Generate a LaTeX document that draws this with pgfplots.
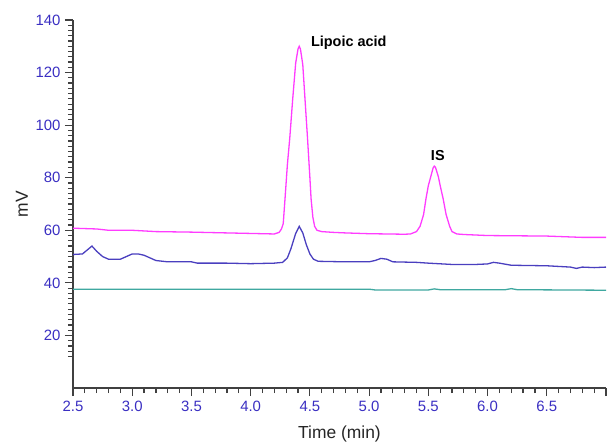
\documentclass[border=0pt]{standalone}
\usepackage{pgfplots}
\pgfplotsset{compat=1.18}
\usepackage{fontspec}
\setmainfont{Liberation Sans}
\definecolor{magc}{HTML}{FF3CFF}
\definecolor{bluec}{HTML}{4A3FBF}
\definecolor{tealc}{HTML}{3FA8A0}
\definecolor{tickc}{HTML}{3A2FC2}
\begin{document}
\begin{tikzpicture}
\begin{axis}[
  scale only axis,
  width=533bp, height=368bp,
  xmin=2.5, xmax=7.0, ymin=0, ymax=140,
  axis x line=bottom, axis y line=left,
  axis line style={-, black!75, line width=1.3bp},
  tick align=outside,
  major tick length=8bp, minor tick length=5bp,
  every tick/.style={black!75, line width=1.2bp},
  xtick={2.5,3.0,3.5,4.0,4.5,5.0,5.5,6.0,6.5,7.0},
  xticklabels={2.5,3.0,3.5,4.0,4.5,5.0,5.5,6.0,6.5,{}},
  minor x tick num=4,
  ytick={20,40,60,80,100,120,140},
  minor ytick={12,14,...,138},
  /pgf/number format/assume math mode=true,
  ticklabel style={font=\fontsize{15}{17}\selectfont, text=tickc},
  xticklabel style={yshift=-2bp},
  yticklabel style={xshift=-1bp},
  xlabel={Time (min)}, ylabel={mV},
  label style={font=\fontsize{17.5}{19}\selectfont, text=black!85},
  xlabel style={at={(axis description cs:0.5,-0.124)}, anchor=center},
  ylabel style={at={(axis description cs:-0.096,0.5)}, anchor=center},
  clip=false,
]
% magenta trace
\addplot[magc, line width=1.3bp] coordinates {
(2.5,60.8) (2.7,60.5) (2.8,60.0) (3.0,60.0) (3.2,59.5) (3.5,59.3) (3.8,59.0) (4.0,58.8) (4.2,58.6)
(4.24,59.2) (4.26,60.5) (4.275,62.5) (4.29,72) (4.31,85) (4.33,95) (4.355,110) (4.38,123.6) (4.40,129)
(4.41,130) (4.42,129) (4.44,123) (4.46,109) (4.48,95) (4.50,80) (4.51,72) (4.525,65) (4.54,61.5)
(4.56,60) (4.60,59.5) (4.70,59.2) (4.80,59.0) (5.0,58.7) (5.30,58.5) (5.35,58.6) (5.40,59.5) (5.43,61.5)
(5.46,66) (5.48,72) (5.50,77) (5.52,80.3) (5.54,83.7) (5.55,84.4) (5.56,84) (5.585,80.3) (5.60,77)
(5.625,72) (5.65,66) (5.68,61.5) (5.70,59.5) (5.74,58.6) (5.80,58.4)
(6.0,58.0) (6.5,57.8) (6.8,57.3) (7.0,57.3)};
% blue trace
\addplot[bluec, line width=1.3bp] coordinates {
(2.5,50.8) (2.58,51) (2.62,52.5) (2.66,54) (2.70,52) (2.75,50) (2.8,49) (2.9,49) (2.95,50) (3.0,51)
(3.05,51) (3.1,50.5) (3.15,49.5) (3.2,48.5) (3.3,48) (3.5,48) (3.55,47.5) (3.8,47.5) (4.0,47.3) (4.2,47.5)
(4.27,47.8) (4.31,49.5) (4.34,53) (4.38,58.8) (4.41,61.5) (4.44,59) (4.47,54.5) (4.50,51) (4.53,49)
(4.57,48.2) (4.8,48)
(5.0,48) (5.05,48.5) (5.1,49.3) (5.15,49) (5.2,48) (5.4,47.8) (5.5,47.5) (5.7,47) (5.9,47) (6.0,47.2)
(6.05,47.8) (6.1,47.5) (6.2,46.7) (6.5,46.5) (6.7,46) (6.75,45.5) (6.8,46) (6.9,45.8) (7.0,46)};
% teal trace
\addplot[tealc, line width=1.3bp] coordinates {
(2.5,37.6) (3.0,37.6) (4.0,37.6) (5.0,37.6) (5.05,37.3) (5.5,37.3) (5.55,37.7) (5.6,37.4) (6.15,37.4)
(6.2,37.8) (6.25,37.4) (7.0,37.2)};
\node[font=\bfseries\fontsize{14.5}{16}\selectfont, anchor=west] at (axis cs:4.48,131.5) {Lipoic acid};
\node[font=\bfseries\fontsize{14.5}{16}\selectfont] at (axis cs:5.58,88.6) {IS};
\path (rel axis cs:0,0) ++(-73bp,-53bp) coordinate (bbsw);
\path (rel axis cs:1,1) ++(8bp,20bp) coordinate (bbne);
\end{axis}
\path (bbsw) (bbne);
\end{tikzpicture}
\end{document}
